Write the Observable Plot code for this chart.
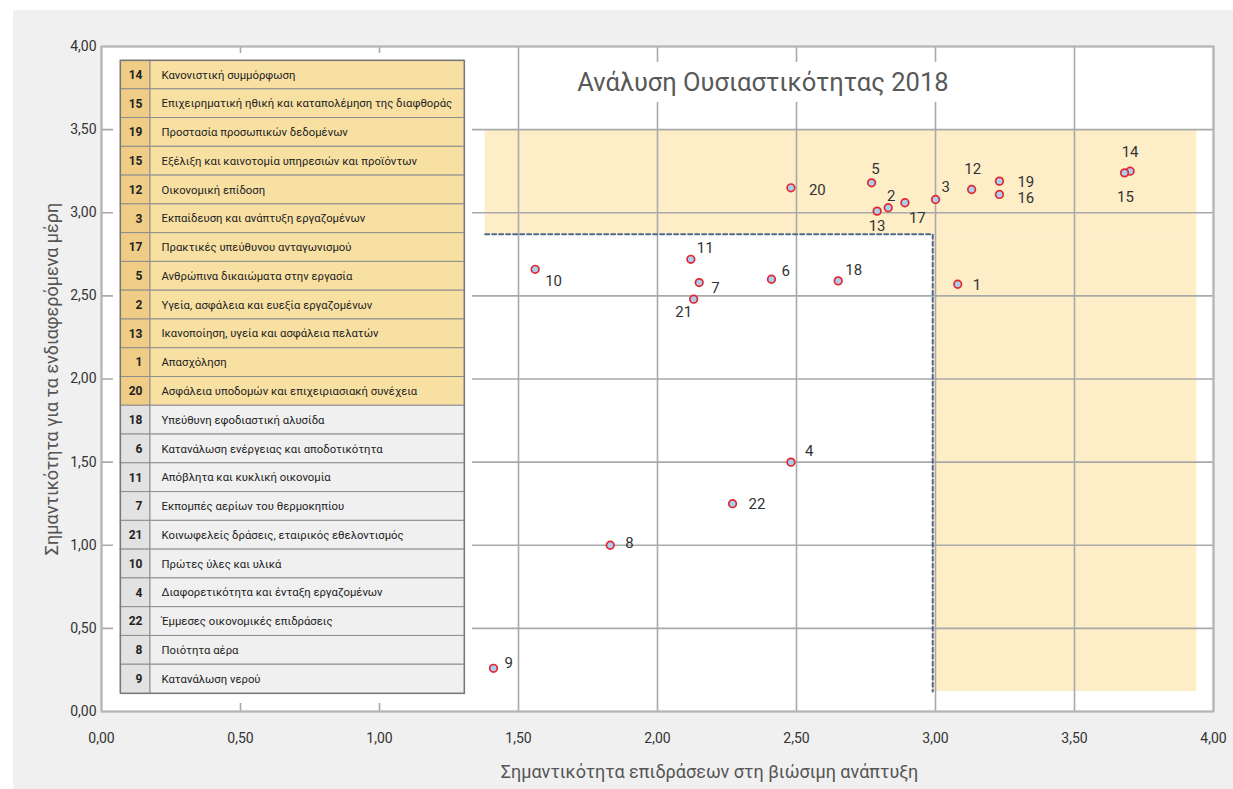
<!DOCTYPE html>
<html><head><meta charset="utf-8">
<script src="https://cdn.jsdelivr.net/npm/d3@7"></script>
<script src="https://cdn.jsdelivr.net/npm/@observablehq/plot@0.6"></script>
<style>
html,body{margin:0;padding:0;background:#fff;}
#wrap{position:relative;width:1233px;height:789px;overflow:hidden;font-family:Roboto,sans-serif;}
#panel{position:absolute;left:13px;top:10px;width:1220px;height:779px;background:#f0f0f0;}
#main{position:absolute;left:0;top:0;}
#table{position:absolute;left:113px;top:53px;}
#title{position:absolute;left:568px;top:62px;width:390px;height:40px;background:#fff;color:#585858;font-size:25.5px;text-align:center;line-height:40px;white-space:nowrap;}
</style>
</head><body>
<div id="wrap"><div id="panel"></div><div id="main"></div><div id="table"></div><div id="title"></div></div>
<script>
// ---- data ----
const pointIds = [14, 15, 19, 16, 12, 1, 3, 17, 2, 13, 5, 20, 11, 10, 7, 21, 6, 18, 4, 22, 8, 9];
const pointX   = [3.70, 3.68, 3.23, 3.23, 3.13, 3.08, 3.00, 2.89, 2.83, 2.79, 2.77, 2.48, 2.12, 1.56, 2.15, 2.13, 2.41, 2.65, 2.48, 2.27, 1.83, 1.41];
const pointY   = [3.25, 3.24, 3.19, 3.11, 3.14, 2.57, 3.08, 3.06, 3.03, 3.01, 3.18, 3.15, 2.72, 2.66, 2.58, 2.48, 2.60, 2.59, 1.50, 1.25, 1.00, 0.26];

const tableNums = [14, 15, 19, 15, 12, 3, 17, 5, 2, 13, 1, 20, 18, 6, 11, 7, 21, 10, 4, 22, 8, 9];
const tableLabels = [
  "Κανονιστική συμμόρφωση",
  "Επιχειρηματική ηθική και καταπολέμηση της διαφθοράς",
  "Προστασία προσωπικών δεδομένων",
  "Εξέλιξη και καινοτομία υπηρεσιών και προϊόντων",
  "Οικονομική επίδοση",
  "Εκπαίδευση και ανάπτυξη εργαζομένων",
  "Πρακτικές υπεύθυνου ανταγωνισμού",
  "Ανθρώπινα δικαιώματα στην εργασία",
  "Υγεία, ασφάλεια και ευεξία εργαζομένων",
  "Ικανοποίηση, υγεία και ασφάλεια πελατών",
  "Απασχόληση",
  "Ασφάλεια υποδομών και επιχειριασιακή συνέχεια",
  "Υπεύθυνη εφοδιαστική αλυσίδα",
  "Κατανάλωση ενέργειας και αποδοτικότητα",
  "Απόβλητα και κυκλική οικονομία",
  "Εκπομπές αερίων του θερμοκηπίου",
  "Κοινωφελείς δράσεις, εταιρικός εθελοντισμός",
  "Πρώτες ύλες και υλικά",
  "Διαφορετικότητα και ένταξη εργαζομένων",
  "Έμμεσες οικονομικές επιδράσεις",
  "Ποιότητα αέρα",
  "Κατανάλωση νερού"
];
const tableGroup = ["material","material","material","material","material","material","material","material","material","material","material","material",
  "other","other","other","other","other","other","other","other","other","other"];

const xTicks = [0, 0.5, 1, 1.5, 2, 2.5, 3, 3.5, 4];
const yTicks = [0, 0.5, 1, 1.5, 2, 2.5, 3, 3.5, 4];

// materiality zone bounds
const zoneLeft = 1.38, zoneRight = 3.94, zoneTop = 3.5, zoneMidY = 2.87, zoneMidX = 2.99, zoneBottom = 0.12;

const titleText = "Ανάλυση Ουσιαστικότητας 2018";
const xTitle = "Σημαντικότητα επιδράσεων στη βιώσιμη ανάπτυξη";
const yTitle = "Σημαντικότητα για τα ενδιαφερόμενα μέρη";

// ---- label layout (offsets in px, anchor) ----
const labelDx = [0, 1, 18, 18, 1, 15, 6, 4, 3, 0, 4, 18, 6, 10, 12, -10, 10, 7, 14, 16, 15, 11];
const labelDy = [-19, 24, 1, 4, -20, 1, -12, 15, -12, 15, -14, 2, -11, 12, 6, 13, -8, -11, -11, 0, -2, -5];
const labelAnchor = ["middle","middle","start","start","middle","start","start","start","middle","middle","middle","start","start","start","start","middle","start","start","start","start","start","start"];

const fmt = d => d.toFixed(2).replace(".", ",");
const pts = pointIds.map((id, i) => ({id: String(id), x: pointX[i], y: pointY[i]}));
const zones = [
  {x1: zoneLeft, x2: zoneRight, y1: zoneMidY, y2: zoneTop},
  {x1: zoneMidX, x2: zoneRight, y1: zoneBottom, y2: zoneMidY}
];
const threshold = [
  {x: zoneLeft, y: zoneMidY}, {x: zoneMidX, y: zoneMidY}, {x: zoneMidX, y: zoneBottom}
];
const gridStyle = {stroke: "#a9a9a9", strokeOpacity: 1, strokeWidth: 1.6};

const labelMarks = pts.map((p, i) => Plot.text([p], {
  x: "x", y: "y", text: "id", dx: labelDx[i], dy: labelDy[i], textAnchor: labelAnchor[i],
  fontSize: 15, fill: "#333"
}));

const main = Plot.plot({
  width: 1233, height: 789,
  marginLeft: 101, marginRight: 20, marginTop: 46, marginBottom: 78,
  style: {background: "transparent", fontFamily: "Roboto, sans-serif", color: "#333", maxWidth: "none"},
  x: {domain: [0, 4]},
  y: {domain: [0, 4]},
  marks: [
    Plot.frame({fill: "white", stroke: "none"}),
    Plot.rect(zones, {x1: "x1", x2: "x2", y1: "y1", y2: "y2", fill: "#fdeec8"}),
    Plot.gridX(xTicks, gridStyle),
    Plot.gridY(yTicks, gridStyle),
    Plot.frame({stroke: "#b5b5b5", strokeWidth: 2}),
    Plot.axisX(xTicks, {tickSize: 0, tickPadding: 22, tickFormat: fmt, fontSize: 14, label: null}),
    Plot.axisY(yTicks, {tickSize: 0, tickPadding: 5, tickFormat: fmt, fontSize: 14, label: null}),
    Plot.line(threshold, {x: "x", y: "y", stroke: "#51688a", strokeWidth: 2, strokeDasharray: "4,3"}),
    Plot.dot(pts, {x: "x", y: "y", r: 3.8, fill: "#a8d0ee", stroke: "#e5252f", strokeWidth: 1.7}),
    ...labelMarks,
    Plot.text([xTitle], {text: d => d, frameAnchor: "bottom", textAnchor: "middle", dx: 52, dy: 66, fontSize: 18, fill: "#555"}),
    Plot.text([yTitle], {text: d => d, frameAnchor: "left", textAnchor: "middle", lineAnchor: "middle", dx: -49, rotate: -90, fontSize: 18, fill: "#555"})
  ]
});
document.getElementById("main").appendChild(main);

const rows = tableNums.map((n, i) => ({i, n: String(n), label: tableLabels[i], group: tableGroup[i]}));
const numFill = {material: "#efcd87", other: "#e2e2e2"};
const labFill = {material: "#f8e0a3", other: "#f0f0f0"};
const table = Plot.plot({
  width: 359, height: 650,
  marginLeft: 7, marginRight: 8, marginTop: 7, marginBottom: 10,
  style: {background: "white", fontFamily: "Roboto, sans-serif", maxWidth: "none"},
  x: {domain: [0, 344], axis: null},
  y: {type: "band", domain: rows.map(d => d.i), padding: 0, round: false, axis: null},
  color: {type: "identity"},
  marks: [
    Plot.barX(rows, {x1: 0, x2: 30, y: "i", fill: d => numFill[d.group], stroke: "#8e8e8e", strokeWidth: 1}),
    Plot.barX(rows, {x1: 30, x2: 344, y: "i", fill: d => labFill[d.group], stroke: "#8e8e8e", strokeWidth: 1}),
    Plot.text(rows, {x: 22, y: "i", text: "n", textAnchor: "end", fontWeight: "bold", fontSize: 12, fill: "#222"}),
    Plot.text(rows, {x: 41, y: "i", text: "label", textAnchor: "start", fontSize: 11.3, fill: "#222"}),
    Plot.frame({stroke: "#777", strokeWidth: 1.2})
  ]
});
document.getElementById("table").appendChild(table);
document.getElementById("title").textContent = titleText;
</script>
</body></html>
